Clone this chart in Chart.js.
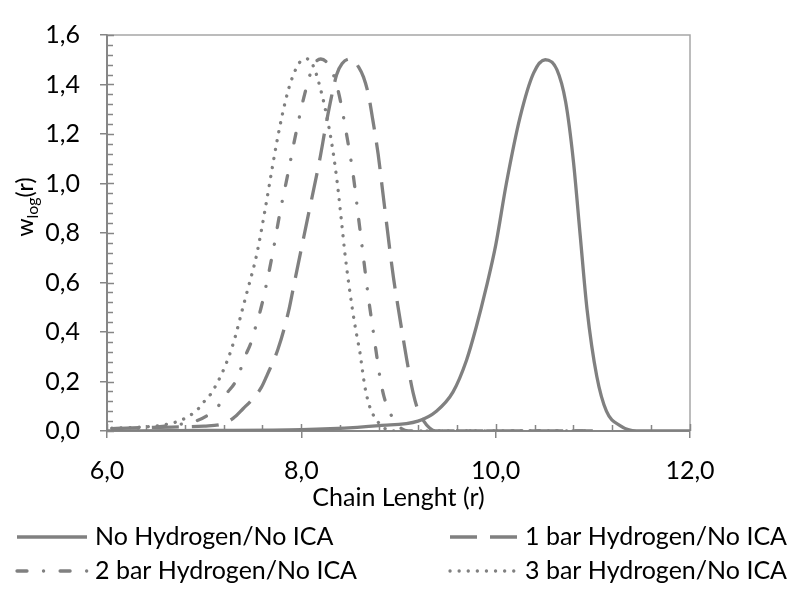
<!DOCTYPE html>
<html>
<head>
<meta charset="utf-8">
<script src="https://cdn.jsdelivr.net/npm/chart.js@4.4.1/dist/chart.umd.min.js"></script>
<style>
  html, body { margin: 0; padding: 0; background: #fff; }
</style>
</head>
<body>
<canvas id="myChart" width="792" height="596"></canvas>
<script>
// series
const seriesLabels = [
  'No Hydrogen/No ICA',
  '1 bar Hydrogen/No ICA',
  '2 bar Hydrogen/No ICA',
  '3 bar Hydrogen/No ICA',
];

const rNoH2 = [6.0, 7.0, 8.0, 8.3, 8.8, 9.2, 9.39, 9.56, 9.7, 9.8, 9.9, 10.0, 10.11, 10.25, 10.39, 10.51, 10.63, 10.72, 10.8, 10.87, 10.94, 11.04, 11.14, 11.28, 11.45, 12.0];
const wNoH2 = [0, 0.002, 0.005, 0.009, 0.022, 0.04, 0.08, 0.157, 0.286, 0.42, 0.575, 0.75, 1.0, 1.266, 1.446, 1.5, 1.46, 1.33, 1.09, 0.79, 0.493, 0.222, 0.08, 0.022, 0, 0];

const r1bar = [6.05, 6.5, 7.0, 7.2, 7.3, 7.4, 7.5, 7.59, 7.65, 7.76, 7.87, 7.92, 8.055, 8.19, 8.25, 8.31, 8.364, 8.42, 8.52, 8.59, 8.64, 8.69, 8.73, 8.79, 8.845, 8.948, 9.0, 9.05, 9.1, 9.15, 9.2, 9.26, 9.32, 9.38, 11.0];
const w1bar = [0.01, 0.015, 0.02, 0.03, 0.052, 0.09, 0.13, 0.177, 0.228, 0.331, 0.486, 0.583, 0.841, 1.098, 1.23, 1.35, 1.44, 1.485, 1.504, 1.47, 1.43, 1.36, 1.27, 1.12, 0.943, 0.62, 0.49, 0.37, 0.255, 0.155, 0.085, 0.04, 0.012, 0, 0];

const r2bar = [6.05, 6.5, 6.7, 6.87, 7.025, 7.15, 7.23, 7.317, 7.37, 7.42, 7.48, 7.514, 7.59, 7.705, 7.78, 7.866, 7.945, 8.037, 8.12, 8.2, 8.26, 8.33, 8.39, 8.467, 8.535, 8.586, 8.638, 8.69, 8.73, 8.77, 8.81, 8.85, 8.9, 8.96, 9.03, 9.1, 11.0];
const w2bar = [0.01, 0.015, 0.025, 0.035, 0.061, 0.103, 0.151, 0.196, 0.244, 0.30, 0.355, 0.40, 0.505, 0.718, 0.882, 1.047, 1.204, 1.365, 1.472, 1.503, 1.49, 1.44, 1.356, 1.195, 1.031, 0.869, 0.705, 0.54, 0.43, 0.32, 0.215, 0.14, 0.085, 0.04, 0.01, 0, 0];

const r3bar = [6.05, 6.3, 6.5, 6.7, 6.786, 6.87, 6.94, 7.0, 7.06, 7.11, 7.19, 7.259, 7.317, 7.386, 7.438, 7.54, 7.626, 7.705, 7.753, 7.807, 7.872, 7.935, 7.98, 8.055, 8.117, 8.151, 8.2, 8.243, 8.31, 8.364, 8.415, 8.45, 8.525, 8.57, 8.604, 8.628, 8.655, 8.696, 8.73, 8.775, 8.84, 8.95, 11.0];
const w3bar = [0.012, 0.015, 0.02, 0.035, 0.048, 0.067, 0.09, 0.119, 0.145, 0.177, 0.239, 0.306, 0.377, 0.48, 0.557, 0.712, 0.892, 1.073, 1.178, 1.283, 1.386, 1.455, 1.488, 1.504, 1.479, 1.446, 1.378, 1.307, 1.169, 1.021, 0.841, 0.712, 0.493, 0.387, 0.315, 0.247, 0.177, 0.108, 0.073, 0.044, 0.015, 0, 0];

const xTickValues = [6, 8, 10, 12];
const yTickValues = [0, 0.2, 0.4, 0.6, 0.8, 1.0, 1.2, 1.4, 1.6];

const xTitle = 'Chain Lenght (r)';

const LINE = '#808080';
const AXIS = '#868686';
const FONT = 'Lato, "Liberation Sans", sans-serif';
const FS = 25;

const toPoints = (r, w) => r.map((x, i) => ({ x: x, y: w[i] }));
const fmt = v => Number(v).toFixed(1).replace('.', ',');

// frame, inner ticks, axis titles and legend (Excel style)
const excelBits = {
  id: 'excelBits',
  beforeDatasetsDraw(chart) {
    const { ctx, chartArea: a } = chart;
    const xs = chart.scales.x, ys = chart.scales.y;
    ctx.save();
    ctx.strokeStyle = '#a6a6a6';
    ctx.lineWidth = 1.5;
    ctx.beginPath();
    ctx.moveTo(a.left, a.top); ctx.lineTo(a.right, a.top); ctx.lineTo(a.right, a.bottom);
    ctx.stroke();
    ctx.strokeStyle = AXIS;
    ctx.lineWidth = 1.5;
    ctx.beginPath();
    for (let v = 0; v <= 1.6001; v += 0.04) {
      const y = Math.round(ys.getPixelForValue(v)) + 0.5;
      const major = Math.abs(v / 0.2 - Math.round(v / 0.2)) < 1e-6;
      ctx.moveTo(a.left, y); ctx.lineTo(a.left + (major ? 7 : 6), y);
    }
    for (let v = 6; v <= 12.0001; v += 0.4) {
      const x = Math.round(xs.getPixelForValue(v)) + 0.5;
      const major = Math.abs(v / 2 - Math.round(v / 2)) < 1e-6;
      ctx.moveTo(x, a.bottom); ctx.lineTo(x, a.bottom - (major ? 7 : 6));
    }
    ctx.stroke();
    ctx.restore();
  },
  afterDraw(chart) {
    const { ctx, chartArea: a } = chart;
    ctx.save();
    ctx.fillStyle = '#000';
    ctx.textBaseline = 'middle';

    // y title: w_log(r)
    ctx.save();
    ctx.translate(26, 207);
    ctx.rotate(-Math.PI / 2);
    const big = '23px ' + FONT, small = '16px ' + FONT;
    ctx.font = big; const w1 = ctx.measureText('w').width, w3 = ctx.measureText('(r)').width;
    ctx.font = small; const w2 = ctx.measureText('log').width;
    let x = -(w1 + w2 + w3) / 2;
    ctx.textAlign = 'left';
    ctx.font = big; ctx.fillText('w', x, 0); x += w1;
    ctx.font = small; ctx.fillText('log', x, 7); x += w2;
    ctx.font = big; ctx.fillText('(r)', x, 0);
    ctx.restore();

    // x title
    ctx.font = FS + 'px ' + FONT;
    ctx.textAlign = 'center';
    ctx.fillText(xTitle, (a.left + a.right) / 2, 498);

    // legend, two columns
    const sampleX = [17, 450], textX = [95, 525], rowY = [537, 571];
    ctx.textAlign = 'left';
    chart.data.datasets.forEach((ds, i) => {
      const col = i % 2, row = Math.floor(i / 2);
      ctx.save();
      ctx.strokeStyle = ds.borderColor;
      ctx.lineWidth = ds.borderWidth;
      ctx.setLineDash(ds.borderDash || []);
      ctx.lineCap = ds.borderCapStyle || 'butt';
      ctx.beginPath();
      ctx.moveTo(sampleX[col], rowY[row]);
      ctx.lineTo(sampleX[col] + 70, rowY[row]);
      ctx.stroke();
      ctx.restore();
      ctx.fillText(ds.label, textX[col], rowY[row]);
    });
    ctx.restore();
  }
};

const lineStyle = {
  borderColor: LINE,
  borderWidth: 3.3,
  pointRadius: 0,
  cubicInterpolationMode: 'monotone',
  borderJoinStyle: 'round',
};

const data = {
  datasets: [
    { ...lineStyle, label: seriesLabels[0], data: toPoints(rNoH2, wNoH2), borderCapStyle: 'butt' },
    { ...lineStyle, label: seriesLabels[1], data: toPoints(r1bar, w1bar), borderDash: [27, 13], borderCapStyle: 'butt' },
    { ...lineStyle, label: seriesLabels[2], data: toPoints(r2bar, w2bar), borderDash: [10, 16.5, 0.1, 16.5], borderCapStyle: 'round' },
    { ...lineStyle, label: seriesLabels[3], data: toPoints(r3bar, w3bar), borderDash: [0.1, 9], borderCapStyle: 'round' },
  ]
};

const config = {
  type: 'line',
  data: data,
  options: {
    responsive: false,
    animation: false,
    layout: { padding: { top: 17, right: 102, bottom: 0, left: 0 } },
    plugins: {
      legend: { display: false },
      tooltip: { enabled: false },
    },
    scales: {
      x: {
        type: 'linear',
        min: 6,
        max: 12,
        afterBuildTicks: s => { s.ticks = xTickValues.map(v => ({ value: v })); },
        afterFit: s => { s.height = 165; },
        ticks: {
          callback: fmt,
          color: '#000',
          font: { family: FONT, size: FS },
          padding: 18,
          maxRotation: 0,
          autoSkip: false,
        },
        grid: { drawOnChartArea: false, drawTicks: true, tickLength: 7, color: AXIS, lineWidth: 1.5 },
        border: { color: AXIS, width: 2 },
      },
      y: {
        min: 0,
        max: 1.6,
        afterBuildTicks: s => { s.ticks = yTickValues.map(v => ({ value: v })); },
        afterFit: s => { s.width = 107; },
        ticks: {
          callback: fmt,
          color: '#000',
          font: { family: FONT, size: FS },
          padding: 20,
          autoSkip: false,
        },
        grid: { drawOnChartArea: false, drawTicks: true, tickLength: 7, color: AXIS, lineWidth: 1.5 },
        border: { color: AXIS, width: 2 },
      },
    },
  },
  plugins: [excelBits],
};

const myChart = new Chart(
  document.getElementById('myChart'),
  config
);
</script>
</body>
</html>
